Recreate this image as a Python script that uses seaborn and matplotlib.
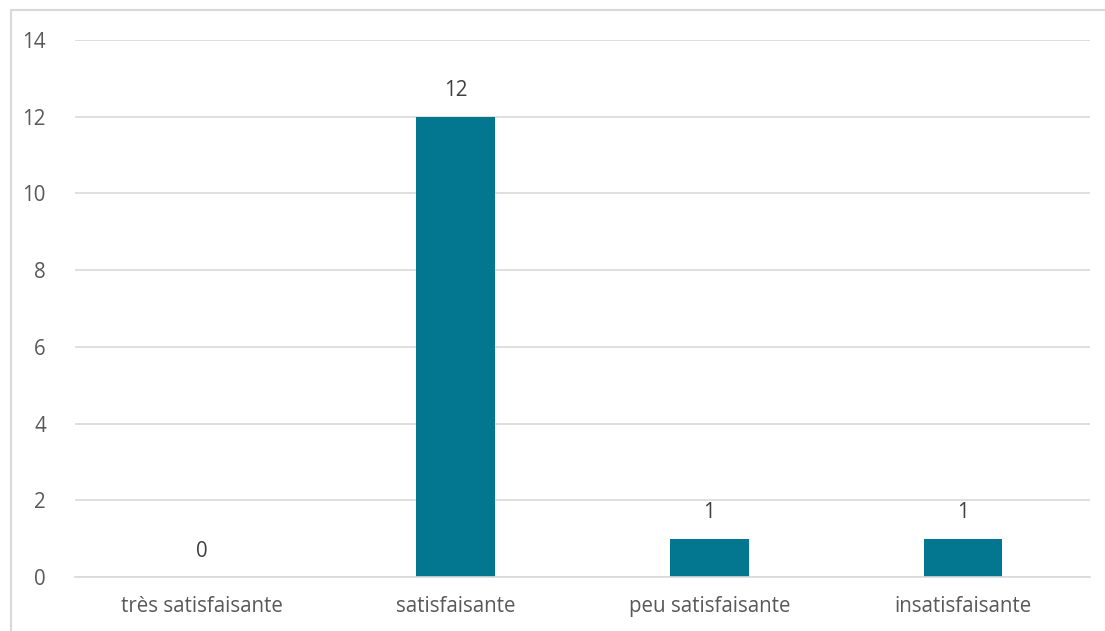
import matplotlib
matplotlib.use("Agg")
import matplotlib.pyplot as plt
import seaborn as sns
import pandas as pd
from matplotlib.lines import Line2D

categories = ["très satisfaisante", "satisfaisante", "peu satisfaisante", "insatisfaisante"]
values = [0, 12, 1, 1]

sns.set_theme(style="white")
plt.rcParams['font.family'] = ['Open Sans', 'DejaVu Sans']

df = pd.DataFrame({"cat": categories, "val": values})

fig = plt.figure(figsize=(11.05, 6.31), dpi=100)
ax = fig.add_axes([75/1105, 1-577/631, (1090-75)/1105, (577-40)/631])

sns.barplot(data=df, x="cat", y="val", color="#02778F", width=0.31, ax=ax,
            saturation=1, linewidth=0)

ax.set_ylim(0, 14)
ax.set_yticks(range(0, 15, 2))
ax.yaxis.grid(True, color="#D9D9D9", linewidth=1.2)
ax.set_axisbelow(True)
for s in ["top", "right", "left"]:
    ax.spines[s].set_visible(False)
ax.spines["bottom"].set_color("#D9D9D9")
ax.spines["bottom"].set_linewidth(1.2)
ax.set_xlabel("")
ax.set_ylabel("")
ax.tick_params(axis="both", colors="#595959", labelsize=14.8, length=0)
ax.tick_params(axis="y", pad=21)
ax.tick_params(axis="x", pad=14)

for c in ax.containers:
    ax.bar_label(c, labels=[f"{v:g}" for v in values], padding=11, color="#404040", fontsize=14.8)

# outer chart border (cropped at right/bottom)
fig.add_artist(Line2D([11/1105, 11/1105], [0, 1-10/631], color="#D9D9D9", lw=1.5, transform=fig.transFigure))
fig.add_artist(Line2D([11/1105, 1], [1-10/631, 1-10/631], color="#D9D9D9", lw=1.5, transform=fig.transFigure))

fig.savefig("out.png", dpi=100, facecolor="white")
